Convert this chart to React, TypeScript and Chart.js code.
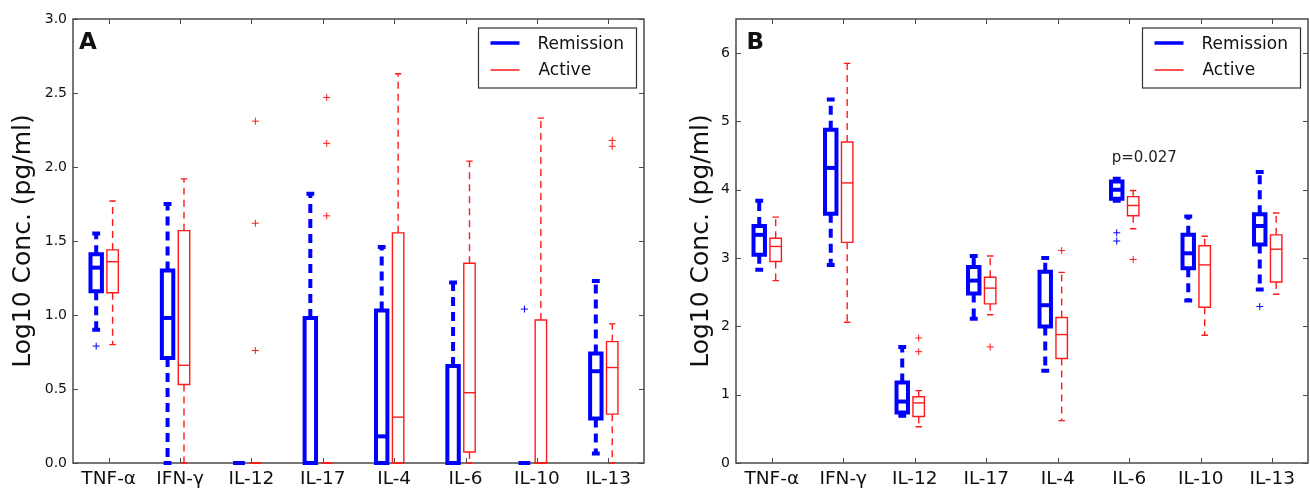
import React, { useEffect, useRef } from 'react';
import { Chart, registerables } from 'chart.js';

Chart.register(...registerables);

const FONT = "'DejaVu Sans', 'Liberation Sans', sans-serif";

// ---------- data ----------
const CATEGORIES = ['TNF-α', 'IFN-γ', 'IL-12', 'IL-17', 'IL-4', 'IL-6', 'IL-10', 'IL-13'];
const SERIES_NAMES = ['Remission', 'Active'];
const Y_TITLE = 'Log10 Conc. (pg/ml)';

// Panel A
const A_TICKS = [0, 0.5, 1, 1.5, 2, 2.5, 3];
const A_REM_MIN = [0.9, 0, 0, 0, 0, 0, 0, 0.065];
const A_REM_Q1 = [1.16, 0.71, 0, 0, 0, 0, 0, 0.3];
const A_REM_MED = [1.32, 0.98, 0, 0, 0.18, 0, 0, 0.62];
const A_REM_Q3 = [1.41, 1.3, 0, 0.98, 1.03, 0.655, 0, 0.74];
const A_REM_MAX = [1.55, 1.75, 0, 1.82, 1.46, 1.22, 0, 1.23];
const A_REM_OUT = [[0.79], [], [], [], [], [], [1.04], []];

const A_ACT_MIN = [0.8, 0, 0, 0, 0, 0, 0, 0];
const A_ACT_Q1 = [1.15, 0.53, 0, 0, 0, 0.074, 0, 0.33];
const A_ACT_MED = [1.36, 0.66, 0, 0, 0.31, 0.475, 0, 0.645];
const A_ACT_Q3 = [1.44, 1.57, 0, 0, 1.555, 1.35, 0.966, 0.82];
const A_ACT_MAX = [1.77, 1.92, 0, 0, 2.63, 2.04, 2.33, 0.94];
const A_ACT_OUT = [[], [], [2.31, 1.62, 0.76], [2.47, 2.16, 1.67], [], [], [], [2.18, 2.14]];

// Panel B
const B_TICKS = [0, 1, 2, 3, 4, 5, 6];
const B_REM_MIN = [2.83, 2.9, 0.69, 2.11, 1.35, 3.84, 2.38, 2.54];
const B_REM_Q1 = [3.05, 3.65, 0.74, 2.48, 2.0, 3.87, 2.85, 3.2];
const B_REM_MED = [3.34, 4.32, 0.9, 2.67, 2.31, 4.0, 3.07, 3.47];
const B_REM_Q3 = [3.47, 4.88, 1.18, 2.87, 2.8, 4.12, 3.34, 3.64];
const B_REM_MAX = [3.84, 5.32, 1.7, 3.03, 3.0, 4.16, 3.61, 4.26];
const B_REM_OUT = [[], [], [], [], [], [3.37, 3.25], [], [2.29]];

const B_ACT_MIN = [2.67, 2.06, 0.53, 2.17, 0.62, 3.43, 1.87, 2.47];
const B_ACT_Q1 = [2.95, 3.23, 0.68, 2.33, 1.53, 3.62, 2.28, 2.65];
const B_ACT_MED = [3.17, 4.1, 0.88, 2.56, 1.88, 3.77, 2.9, 3.13];
const B_ACT_Q3 = [3.29, 4.7, 0.97, 2.72, 2.13, 3.9, 3.18, 3.34];
const B_ACT_MAX = [3.6, 5.85, 1.06, 3.03, 2.79, 3.99, 3.32, 3.66];
const B_ACT_OUT = [[], [], [1.83, 1.63], [1.7], [3.11], [2.98], [], []];

const B_NOTE_TEXT = 'p=0.027';
const B_NOTE_X = 5.21;
const B_NOTE_Y = 4.4;

// ---------- styles ----------
const BLUE = '#0000ff';
const RED = '#ff1a1a';
const SPINE = '#4a4a4a';
const TEXT = '#111111';

type Group = {
  min: number[]; q1: number[]; med: number[]; q3: number[]; max: number[]; out: number[][];
  color: string; lw: number; offset: number; capW: number; dash: number[];
};

type Panel = {
  id: string;
  letter: string;
  letterDx: number;
  yMax: number;
  ticks: number[];
  fmt: (v: number) => string;
  yAxisWidth: number;
  titlePad: number;
  padding: { left: number; right: number; top: number; bottom: number };
  groups: Group[];
  note?: { text: string; x: number; y: number };
};

const BOX_W = 0.16;
const REM_OFFSET = -0.175;
const ACT_OFFSET = 0.055;
const TITLE_SIZE = 25;

const remGroup = (min: number[], q1: number[], med: number[], q3: number[], max: number[], out: number[][]): Group => ({
  min, q1, med, q3, max, out, color: BLUE, lw: 4, offset: REM_OFFSET, capW: 0.11, dash: [9, 6],
});
const actGroup = (min: number[], q1: number[], med: number[], q3: number[], max: number[], out: number[][]): Group => ({
  min, q1, med, q3, max, out, color: RED, lw: 1.4, offset: ACT_OFFSET, capW: 0.09, dash: [7, 5],
});

const PANEL_A: Panel = {
  id: 'A',
  letter: 'A',
  letterDx: 6,
  yMax: 3,
  ticks: A_TICKS,
  fmt: (v) => v.toFixed(1),
  yAxisWidth: 73,
  titlePad: 8.0,
  padding: { left: 0, right: 11, top: 19, bottom: 0 },
  groups: [
    remGroup(A_REM_MIN, A_REM_Q1, A_REM_MED, A_REM_Q3, A_REM_MAX, A_REM_OUT),
    actGroup(A_ACT_MIN, A_ACT_Q1, A_ACT_MED, A_ACT_Q3, A_ACT_MAX, A_ACT_OUT),
  ],
};

const PANEL_B: Panel = {
  id: 'B',
  letter: 'B',
  letterDx: 10.5,
  yMax: 6.5,
  ticks: B_TICKS,
  fmt: (v) => String(v),
  yAxisWidth: 81,
  titlePad: 31.0,
  padding: { left: 0, right: 2, top: 19, bottom: 0 },
  groups: [
    remGroup(B_REM_MIN, B_REM_Q1, B_REM_MED, B_REM_Q3, B_REM_MAX, B_REM_OUT),
    actGroup(B_ACT_MIN, B_ACT_Q1, B_ACT_MED, B_ACT_Q3, B_ACT_MAX, B_ACT_OUT),
  ],
  note: { text: B_NOTE_TEXT, x: B_NOTE_X, y: B_NOTE_Y },
};

function boxPlugin(panel: Panel) {
  return {
    id: 'boxplot' + panel.id,
    afterDraw(chart: any) {
      const { ctx, chartArea: ca } = chart;
      const xs = chart.scales.x;
      const ys = chart.scales.y;
      ctx.save();

      // inside ticks
      ctx.strokeStyle = SPINE;
      ctx.lineWidth = 1;
      ctx.beginPath();
      xs.ticks.forEach((t: any) => {
        const px = Math.round(xs.getPixelForValue(t.value)) + 0.5;
        ctx.moveTo(px, ca.bottom);
        ctx.lineTo(px, ca.bottom - 5);
        ctx.moveTo(px, ca.top);
        ctx.lineTo(px, ca.top + 5);
      });
      ys.ticks.forEach((t: any) => {
        const py = Math.round(ys.getPixelForValue(t.value)) + 0.5;
        ctx.moveTo(ca.left, py);
        ctx.lineTo(ca.left + 5, py);
        ctx.moveTo(ca.right, py);
        ctx.lineTo(ca.right - 5, py);
      });
      ctx.stroke();

      // spines
      ctx.lineWidth = 1.5;
      ctx.strokeRect(ca.left, ca.top, ca.right - ca.left, ca.bottom - ca.top);

      // boxes
      panel.groups.forEach((g) => {
        ctx.strokeStyle = g.color;
        ctx.lineWidth = g.lw;
        ctx.lineCap = 'butt';
        ctx.lineJoin = 'miter';
        CATEGORIES.forEach((_, i) => {
          const c = i + g.offset;
          const cx = xs.getPixelForValue(c);
          const bl = xs.getPixelForValue(c - BOX_W / 2);
          const br = xs.getPixelForValue(c + BOX_W / 2);
          const cl = xs.getPixelForValue(c - g.capW / 2);
          const cr = xs.getPixelForValue(c + g.capW / 2);
          const yMin = ys.getPixelForValue(g.min[i]);
          const yQ1 = ys.getPixelForValue(g.q1[i]);
          const yMed = ys.getPixelForValue(g.med[i]);
          const yQ3 = ys.getPixelForValue(g.q3[i]);
          const yMax = ys.getPixelForValue(g.max[i]);

          // whiskers (dashed)
          ctx.setLineDash(g.dash);
          ctx.beginPath();
          if (yQ1 !== yMin) {
            ctx.moveTo(cx, yQ1);
            ctx.lineTo(cx, yMin);
          }
          if (yQ3 !== yMax) {
            ctx.moveTo(cx, yQ3);
            ctx.lineTo(cx, yMax);
          }
          ctx.stroke();
          ctx.setLineDash([]);

          // caps
          ctx.beginPath();
          ctx.moveTo(cl, yMin);
          ctx.lineTo(cr, yMin);
          ctx.moveTo(cl, yMax);
          ctx.lineTo(cr, yMax);
          ctx.stroke();

          // box
          ctx.beginPath();
          if (yQ1 === yQ3) {
            ctx.moveTo(bl, yQ1);
            ctx.lineTo(br, yQ1);
          } else {
            ctx.rect(bl, yQ3, br - bl, yQ1 - yQ3);
          }
          ctx.stroke();

          // median
          ctx.beginPath();
          ctx.moveTo(bl, yMed);
          ctx.lineTo(br, yMed);
          ctx.stroke();

          // outliers
          ctx.lineWidth = 1;
          ctx.beginPath();
          g.out[i].forEach((v) => {
            const py = ys.getPixelForValue(v);
            ctx.moveTo(cx - 3.5, py);
            ctx.lineTo(cx + 3.5, py);
            ctx.moveTo(cx, py - 3.5);
            ctx.lineTo(cx, py + 3.5);
          });
          ctx.stroke();
          ctx.lineWidth = g.lw;
        });
      });

      // legend
      const lw = 158;
      const lh = 60;
      const lx = ca.right - 7.5 - lw;
      const ly = ca.top + 9;
      ctx.fillStyle = '#ffffff';
      ctx.fillRect(lx, ly, lw, lh);
      ctx.strokeStyle = '#333';
      ctx.lineWidth = 1.2;
      ctx.strokeRect(lx, ly, lw, lh);
      const rows = [
        { color: BLUE, w: 3.5, ly: 15, ty: 21, tx: 59 },
        { color: RED, w: 1.5, ly: 42, ty: 47, tx: 60 },
      ];
      ctx.font = `17px ${FONT}`;
      ctx.textAlign = 'left';
      ctx.textBaseline = 'alphabetic';
      rows.forEach((r, k) => {
        ctx.strokeStyle = r.color;
        ctx.lineWidth = r.w;
        ctx.beginPath();
        ctx.moveTo(lx + 12, ly + r.ly);
        ctx.lineTo(lx + 41, ly + r.ly);
        ctx.stroke();
        ctx.fillStyle = TEXT;
        ctx.fillText(SERIES_NAMES[k], lx + r.tx, ly + r.ty);
      });

      // panel letter
      ctx.font = `bold 23px ${FONT}`;
      ctx.fillStyle = TEXT;
      ctx.fillText(panel.letter, ca.left + panel.letterDx, ca.top + 29.5);

      // annotation
      if (panel.note) {
        ctx.font = `15px ${FONT}`;
        ctx.fillStyle = '#222';
        ctx.textAlign = 'center';
        ctx.fillText(panel.note.text, xs.getPixelForValue(panel.note.x), ys.getPixelForValue(panel.note.y));
      }
      ctx.restore();
    },
  };
}

function makeConfig(panel: Panel): any {
  return {
    type: 'scatter',
    data: { datasets: [] },
    options: {
      animation: false,
      responsive: false,
      maintainAspectRatio: false,
      layout: { padding: panel.padding },
      plugins: { legend: { display: false }, tooltip: { enabled: false } },
      scales: {
        x: {
          type: 'linear',
          min: -0.5,
          max: 7.5,
          afterBuildTicks: (s: any) => {
            s.ticks = CATEGORIES.map((_, i) => ({ value: i }));
          },
          afterFit: (s: any) => {
            s.height = 26;
          },
          grid: { display: false, drawTicks: false },
          border: { display: false },
          ticks: {
            callback: (v: number) => CATEGORIES[v] ?? '',
            font: { family: FONT, size: 18.5 },
            color: TEXT,
            padding: 5,
            maxRotation: 0,
            autoSkip: false,
          },
        },
        y: {
          type: 'linear',
          min: 0,
          max: panel.yMax,
          afterBuildTicks: (s: any) => {
            s.ticks = panel.ticks.map((v) => ({ value: v }));
          },
          afterFit: (s: any) => {
            s.width = panel.yAxisWidth;
          },
          grid: { display: false, drawTicks: false },
          border: { display: false },
          ticks: {
            callback: (v: number) => panel.fmt(v),
            font: { family: FONT, size: 14 },
            color: TEXT,
            padding: 6,
          },
          title: {
            display: true,
            text: Y_TITLE,
            font: { family: FONT, size: TITLE_SIZE },
            color: TEXT,
            padding: { top: panel.titlePad, bottom: 0 },
          },
        },
      },
    },
    plugins: [boxPlugin(panel)],
  };
}

export default function App() {
  const refA = useRef<HTMLCanvasElement>(null);
  const refB = useRef<HTMLCanvasElement>(null);

  useEffect(() => {
    const a = new Chart(refA.current as HTMLCanvasElement, makeConfig(PANEL_A));
    const b = new Chart(refB.current as HTMLCanvasElement, makeConfig(PANEL_B));
    return () => {
      a.destroy();
      b.destroy();
    };
  }, []);

  return (
    <div style={{ position: 'absolute', left: 0, top: 0, width: 1310, height: 489, background: '#fff' }}>
      <canvas
        ref={refA}
        width={655}
        height={489}
        style={{ position: 'absolute', left: 0, top: 0, width: 655, height: 489 }}
      />
      <canvas
        ref={refB}
        width={655}
        height={489}
        style={{ position: 'absolute', left: 655, top: 0, width: 655, height: 489 }}
      />
    </div>
  );
}
